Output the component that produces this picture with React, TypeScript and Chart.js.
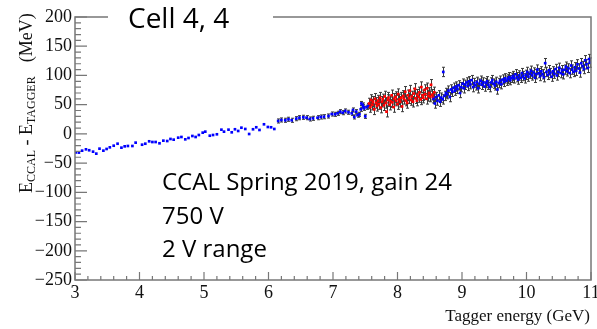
import React, { useEffect, useRef } from "react";
import { Chart, registerables } from "chart.js";

Chart.register(...registerables);

const W = 597;
const H = 329;

// ---- data ----
const X_MIN = 3;
const X_MAX = 11;
const Y_MIN = -250;
const Y_MAX = 200;
const Y_STEP = 50;

const blueAX = [3.01, 3.06, 3.11, 3.17, 3.22, 3.28, 3.33, 3.38, 3.44, 3.49, 3.54, 3.6, 3.66, 3.72, 3.77, 3.82, 3.89, 3.94, 4.04, 4.09, 4.15, 4.2, 4.25, 4.31, 4.37, 4.43, 4.48, 4.53, 4.6, 4.65, 4.71, 4.76, 4.82, 4.87, 4.92, 4.98, 5.02, 5.09, 5.14, 5.2, 5.27, 5.31, 5.38, 5.43, 5.48, 5.53, 5.58, 5.64, 5.7, 5.76, 5.81, 5.86, 5.93, 5.99, 6.04, 6.09];
const blueAY = [-31.5, -32, -28.7, -26.4, -28, -30.4, -33.8, -25.3, -28.7, -25.8, -23, -20.2, -16.8, -23.6, -21.3, -20.7, -20.7, -15, -18.5, -16.8, -12.7, -13.9, -13.9, -16.1, -11.6, -12.2, -8.7, -9.9, -6.5, -5.3, -9.3, -7, -3.6, -5.3, -1.9, 2.1, 3.8, -3.1, -1.9, -0.7, 7.2, 3.8, 7.2, 2.7, 7.9, 5, 10.6, 8.4, -0.2, 7.9, 11.3, 6.7, 16.4, 11.8, 11.3, 8.4];
const blueAErr = 0;

const blueBX = [6.15, 6.2, 6.26, 6.31, 6.36, 6.43, 6.48, 6.54, 6.59, 6.64, 6.69, 6.76, 6.81, 6.86, 6.93, 6.98, 7.03, 7.07, 7.11, 7.15, 7.19, 7.24, 7.29, 7.31, 7.33, 7.36, 7.38, 7.41, 7.43, 7.44, 7.46, 7.47, 7.48, 7.5, 7.52, 7.55];
const blueBY = [22.1, 23.8, 23.3, 25, 23.3, 26, 27.7, 28.4, 27.7, 25.5, 26.7, 27.7, 28.9, 29.4, 30.6, 34, 33.5, 35.2, 38, 36.3, 39.2, 37, 35.2, 40.9, 29, 38, 32, 33.5, 42.1, 52, 49.5, 46.5, 43.8, 30, 45.5, 48.3];
const blueBErr = 3.5;

const redX = [7.56, 7.58, 7.59, 7.61, 7.62, 7.64, 7.65, 7.67, 7.68, 7.7, 7.71, 7.73, 7.74, 7.76, 7.77, 7.79, 7.8, 7.82, 7.83, 7.85, 7.86, 7.88, 7.89, 7.91, 7.92, 7.94, 7.95, 7.97, 7.98, 8.0, 8.01, 8.03, 8.04, 8.06, 8.07, 8.09, 8.1, 8.12, 8.13, 8.15, 8.16, 8.18, 8.19, 8.21, 8.22, 8.24, 8.25, 8.27, 8.28, 8.3, 8.31, 8.33, 8.34, 8.36, 8.37, 8.39, 8.4, 8.42, 8.43, 8.45, 8.46, 8.48, 8.49, 8.51, 8.52, 8.54, 8.55, 8.57];
const redY = [52, 46, 58, 50, 55, 42, 60, 53, 48, 57, 51, 62, 45, 55, 59, 49, 64, 53, 38, 58, 62, 50, 56, 66, 54, 46, 60, 63, 57, 51, 68, 59, 55, 62, 47, 65, 60, 72, 57, 53, 66, 61, 74, 58, 64, 55, 69, 77, 61, 57, 67, 63, 71, 59, 80, 66, 62, 75, 68, 60, 78, 65, 70, 64, 84, 67, 62, 71];
const redErr = 9;

const blueCX = [8.56, 8.58, 8.6, 8.62, 8.64, 8.66, 8.68, 8.7, 8.71, 8.73, 8.75, 8.77, 8.79, 8.81, 8.83, 8.85, 8.87, 8.89, 8.91, 8.93, 8.95, 8.97, 8.99, 9.01, 9.03, 9.05, 9.07, 9.09, 9.11, 9.13, 9.15, 9.17, 9.19, 9.21, 9.23, 9.25, 9.27, 9.29, 9.31, 9.33, 9.35, 9.37, 9.39, 9.41, 9.43, 9.45, 9.47, 9.49, 9.51, 9.53, 9.55, 9.57, 9.59, 9.61, 9.63, 9.65, 9.67, 9.69, 9.71, 9.73, 9.75, 9.77, 9.79, 9.81, 9.83, 9.85, 9.87, 9.89, 9.91, 9.93, 9.95, 9.97, 9.99, 10.01, 10.03, 10.05, 10.07, 10.09, 10.11, 10.13, 10.15, 10.17, 10.19, 10.21, 10.23, 10.25, 10.27, 10.29, 10.31, 10.33, 10.35, 10.37, 10.39, 10.41, 10.43, 10.45, 10.47, 10.49, 10.51, 10.53, 10.55, 10.57, 10.59, 10.61, 10.63, 10.65, 10.67, 10.69, 10.71, 10.73, 10.75, 10.77, 10.79, 10.81, 10.83, 10.85, 10.87, 10.89, 10.91, 10.93, 10.95, 10.97, 10.98];
const blueCY = [60, 52, 63, 57, 66, 55, 62, 59, 106, 65, 70, 68, 74, 63, 76, 72, 79, 74, 81, 77, 83, 70, 80, 86, 78, 84, 88, 82, 90, 85, 92, 80, 87, 83, 89, 78, 86, 91, 84, 88, 81, 87, 90, 84, 80, 88, 92, 86, 83, 89, 76, 87, 91, 85, 93, 89, 95, 91, 94, 97, 92, 96, 99, 95, 102, 97, 93, 100, 96, 104, 99, 95, 101, 106, 98, 103, 108, 100, 105, 96, 102, 110, 104, 99, 107, 102, 97, 121, 106, 101, 109, 104, 98, 107, 103, 111, 100, 106, 113, 104, 109, 102, 110, 115, 107, 112, 104, 117, 110, 106, 114, 108, 119, 112, 105, 121, 116, 111, 126, 119, 113, 128, 122];
const blueCErr = 8;

const titleText = "Cell 4, 4";
const infoLines = ["CCAL Spring 2019, gain 24", "750 V", "2 V range"];
const xTitle = "Tagger energy (GeV)";

const SERIF = "'Liberation Serif', 'DejaVu Serif', serif";
const SANS = "'Open Sans', 'Noto Sans', sans-serif";

const toPts = (xs: number[], ys: number[]) => xs.map((x, i) => ({ x, y: ys[i] }));

const rootPlugin = {
  id: "rootStyle",
  beforeDatasetsDraw(chart: any) {
    const { ctx } = chart;
    const xs = chart.scales.x;
    const ys = chart.scales.y;
    ctx.save();
    ctx.strokeStyle = "#3a3a3a";
    ctx.lineWidth = 1;
    chart.data.datasets.forEach((ds: any) => {
      const e = ds.err;
      if (!e) return;
      ds.data.forEach((p: any) => {
        const px = Math.round(xs.getPixelForValue(p.x)) + 0.5;
        const y1 = ys.getPixelForValue(p.y + e);
        const y2 = ys.getPixelForValue(p.y - e);
        ctx.beginPath();
        ctx.moveTo(px, y1);
        ctx.lineTo(px, y2);
        ctx.moveTo(px - 1.5, y1);
        ctx.lineTo(px + 1.5, y1);
        ctx.moveTo(px - 1.5, y2);
        ctx.lineTo(px + 1.5, y2);
        ctx.stroke();
      });
    });
    ctx.restore();
  },
  afterDraw(chart: any) {
    const { ctx, chartArea: a } = chart;
    const xs = chart.scales.x;
    const ys = chart.scales.y;
    ctx.save();
    // frame
    ctx.strokeStyle = "#777";
    ctx.lineWidth = 1.5;
    ctx.strokeRect(a.left, a.top, a.right - a.left, a.bottom - a.top);
    // y ticks (inside)
    ctx.lineWidth = 1.2;
    ctx.beginPath();
    for (let v = Y_MIN; v <= Y_MAX; v += 10) {
      const py = ys.getPixelForValue(v);
      const len = v % 50 === 0 ? 12 : 6;
      ctx.moveTo(a.left, py);
      ctx.lineTo(a.left + len, py);
    }
    // x ticks (inside)
    for (let i = 0; i <= (X_MAX - X_MIN) * 5; i++) {
      const v = X_MIN + i * 0.2;
      const px = xs.getPixelForValue(v);
      const len = i % 5 === 0 ? 8 : 4;
      ctx.moveTo(px, a.bottom);
      ctx.lineTo(px, a.bottom - len);
    }
    ctx.stroke();

    // title box covering the frame top
    ctx.fillStyle = "#fff";
    ctx.fillRect(108, 0, 165, 32);
    ctx.fillStyle = "#000";
    ctx.font = `28px ${SANS}`;
    ctx.textAlign = "left";
    ctx.textBaseline = "alphabetic";
    ctx.fillText(titleText, 128, 28);

    // info text
    ctx.font = `24px ${SANS}`;
    infoLines.forEach((t, i) => ctx.fillText(t, 162, 190 + i * 33.5));

    // x axis title
    ctx.font = `17px ${SERIF}`;
    ctx.textAlign = "right";
    ctx.fillStyle = "#111";
    ctx.fillText(xTitle, 590, 321);

    // y axis title (rotated, with subscripts)
    ctx.translate(32, 193);
    ctx.rotate(-Math.PI / 2);
    ctx.textAlign = "left";
    let cx = 0;
    const big = `18px ${SERIF}`;
    const small = `12px ${SERIF}`;
    const piece = (t: string, f: string, dy: number) => {
      ctx.font = f;
      ctx.fillText(t, cx, dy);
      cx += ctx.measureText(t).width;
    };
    piece("E", big, 0);
    piece("CCAL", small, 3);
    piece(" - ", big, 0);
    piece("E", big, 0);
    piece("TAGGER", small, 3);
    cx += 14;
    piece("(MeV)", big, 0);
    ctx.restore();
  },
};

export default function App() {
  const ref = useRef<HTMLCanvasElement>(null);
  useEffect(() => {
    if (!ref.current) return;
    const pt = { pointStyle: "rect", pointRadius: 1.9, pointBorderWidth: 0, showLine: false };
    const chart = new Chart(ref.current, {
      type: "scatter",
      data: {
        datasets: [
          { ...pt, data: toPts(blueCX, blueCY), backgroundColor: "#0000ff", err: blueCErr } as any,
          { ...pt, data: toPts(redX, redY), backgroundColor: "#ff0000", err: redErr } as any,
          { ...pt, data: toPts(blueBX, blueBY), backgroundColor: "#0000ff", err: blueBErr } as any,
          { ...pt, data: toPts(blueAX, blueAY), backgroundColor: "#0000ff", err: blueAErr } as any,
        ],
      },
      options: {
        animation: false,
        responsive: false,
        devicePixelRatio: 1,
        layout: { padding: { top: 17, right: 6, left: 0, bottom: 0 } },
        plugins: { legend: { display: false }, tooltip: { enabled: false }, title: { display: false } },
        scales: {
          x: {
            type: "linear",
            min: X_MIN,
            max: X_MAX,
            grid: { display: false, drawTicks: false },
            border: { display: false },
            ticks: {
              stepSize: 1,
              padding: 2,
              color: "#111",
              font: { family: SERIF, size: 18 },
              maxRotation: 0,
              autoSkip: false,
            },
            afterFit: (s: any) => {
              s.height = 49;
              s.paddingLeft = 0;
              s.paddingRight = 0;
            },
          },
          y: {
            type: "linear",
            min: Y_MIN,
            max: Y_MAX,
            grid: { display: false, drawTicks: false },
            border: { display: false },
            ticks: {
              stepSize: Y_STEP,
              padding: 3,
              color: "#111",
              font: { family: SERIF, size: 18 },
              autoSkip: false,
              callback: (v: any) => (Number(v) < 0 ? "\u2212" + Math.abs(Number(v)) : String(v)),
            },
            afterFit: (s: any) => {
              s.width = 75;
              s.paddingTop = 0;
              s.paddingBottom = 0;
            },
          },
        },
      } as any,
      plugins: [rootPlugin],
    });
    return () => chart.destroy();
  }, []);
  return (
    <div style={{ position: "absolute", left: 0, top: 0, width: W, height: H, background: "#fff" }}>
      <canvas ref={ref} width={W} height={H} style={{ display: "block" }} />
    </div>
  );
}
